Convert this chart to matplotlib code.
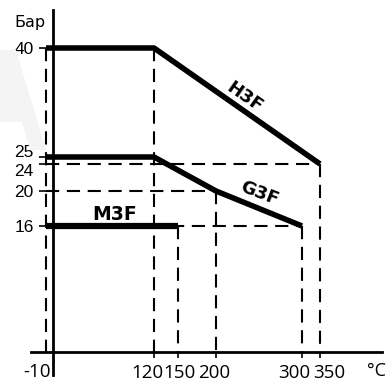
import numpy as np
import matplotlib
matplotlib.use("Agg")
import matplotlib.pyplot as plt
from matplotlib.transforms import ScaledTranslation
from matplotlib.patches import Polygon

# ---- data ----
h3f_t = [-10, 120, 350]
h3f_p = [40, 40, 24]
g3f_t = [-10, 120, 200, 300]
g3f_p = [25, 25, 20, 16]
m3f_t = [-10, 150]
m3f_p = [16, 16]
x_ticks = [120, 150, 200, 300, 350]
y_ticks = [16, 20, 24, 25, 40]
series_names = ["H3F", "G3F", "M3F"]

# ---- layout: non-linear drawing scales (piecewise linear, in pixel units) ----
W, H = 386, 383
xk_val = np.array([-40, -10, 0, 120, 150, 200, 300, 350, 420], float)
xk_px = np.array([31, 46, 53, 154, 178, 216, 302, 320, 382], float)
yk_val = np.array([-3, 0, 16, 20, 24, 25, 40, 45], float)
yk_px = np.array([375, 352, 226, 191, 164, 157, 48, 10], float)

def xf(v):
    return np.interp(v, xk_val, xk_px)
def xi(p):
    return np.interp(p, xk_px, xk_val)
def yf(v):
    return -np.interp(v, yk_val, yk_px)
def yi(p):
    return np.interp(-np.asarray(p), yk_px[::-1], yk_val[::-1])

plt.rcParams['lines.scale_dashes'] = False
fig = plt.figure(figsize=(W / 100, H / 100), dpi=100)
ax = fig.add_axes([31 / W, (H - 375) / H, 351 / W, 365 / H])
ax.set_xscale('function', functions=(xf, xi))
ax.set_yscale('function', functions=(yf, yi))
ax.set_xlim(-40, 420)
ax.set_ylim(-3, 45)
ax.patch.set_alpha(0)

# faint watermark
fig.patches.append(Polygon([(0 / W, 1 - 50 / H), (16 / W, 1 - 50 / H), (46 / W, 1 - 150 / H),
                            (30 / W, 1 - 150 / H), (22 / W, 1 - 122 / H), (0 / W, 1 - 122 / H)],
                           closed=True, transform=fig.transFigure, facecolor='#f4f4f4',
                           edgecolor='none', zorder=0))

for s in ['top', 'right']:
    ax.spines[s].set_visible(False)
ax.spines['left'].set_position(('data', 0))
ax.spines['bottom'].set_position(('data', 0))
ax.spines['left'].set_linewidth(2)
ax.spines['bottom'].set_linewidth(2)

dash = (0, (9.5, 5.5))
dkw = dict(color='black', lw=1.5, linestyle=dash, zorder=2)

# vertical dashed lines
ax.plot([h3f_t[0], h3f_t[0]], [h3f_p[0], 0], **dkw)
for t, p in [(h3f_t[1], h3f_p[1]), (h3f_t[2], h3f_p[2]), (g3f_t[2], g3f_p[2]),
             (g3f_t[3], g3f_p[3]), (m3f_t[1], m3f_p[1])]:
    ax.plot([t, t], [p, 0], **dkw)
# horizontal dashed lines
for t, p in [(h3f_t[2], h3f_p[2]), (g3f_t[2], g3f_p[2]), (g3f_t[3], g3f_p[3])]:
    ax.plot([-10, t], [p, p], **dkw)

# series lines
ax.plot(h3f_t, h3f_p, color='black', lw=4, solid_capstyle='butt', zorder=3)
ax.plot(g3f_t, g3f_p, color='black', lw=4, solid_capstyle='butt', zorder=3)
ax.plot(m3f_t, m3f_p, color='black', lw=4.5, solid_capstyle='butt', zorder=3)

# ticks
ax.set_yticks(y_ticks)
ax.set_yticklabels([str(v) for v in y_ticks], family='Liberation Sans', fontsize=12.5)
ax.tick_params(axis='y', direction='out', length=10, width=1.2, pad=4)
ax.yaxis.set_minor_locator(matplotlib.ticker.NullLocator())
ax.set_xticks(x_ticks)
ax.set_xticklabels([str(v) for v in x_ticks], family='Open Sans', fontsize=13.5)
ax.tick_params(axis='x', direction='out', length=4.5, width=1.2, pad=4)
ax.xaxis.set_minor_locator(matplotlib.ticker.NullLocator())
offs = [-6.5, 1, -1.5, -8, 9]
for lab, o in zip(ax.get_xticklabels(), offs):
    lab.set_transform(lab.get_transform() + ScaledTranslation(o / 100, 0, fig.dpi_scale_trans))
# y tick label vertical nudges for 25/24 crowding
ynudge = {25: 6, 24: -6}
for lab, v in zip(ax.get_yticklabels(), y_ticks):
    if v in ynudge:
        lab.set_transform(lab.get_transform() + ScaledTranslation(0, ynudge[v] / 100, fig.dpi_scale_trans))

# extra labels
fig.text(36.5 / W, 1 - 372 / H, "-10", family='Open Sans', fontsize=13.5, ha='center', va='center')
fig.text(377 / W, 1 - 371 / H, "°C", family='Open Sans', fontsize=13, ha='center', va='center')
fig.text(29.5 / W, 1 - 22 / H, "Бар", family='DejaVu Sans', fontsize=11.5, ha='center', va='center')

# series names
ax.text(xi(245), yi(-97), series_names[0], fontsize=13, fontweight='bold', rotation=-35,
        ha='center', va='center', family='DejaVu Sans', rotation_mode='anchor')
ax.text(xi(259), yi(-193), series_names[1], fontsize=13, fontweight='bold', rotation=-21,
        ha='center', va='center', family='DejaVu Sans', rotation_mode='anchor')
ax.text(xi(114.5), yi(-215), series_names[2], fontsize=13.5, fontweight='bold',
        ha='center', va='center', family='DejaVu Sans')

fig.savefig("out.png", dpi=100)
